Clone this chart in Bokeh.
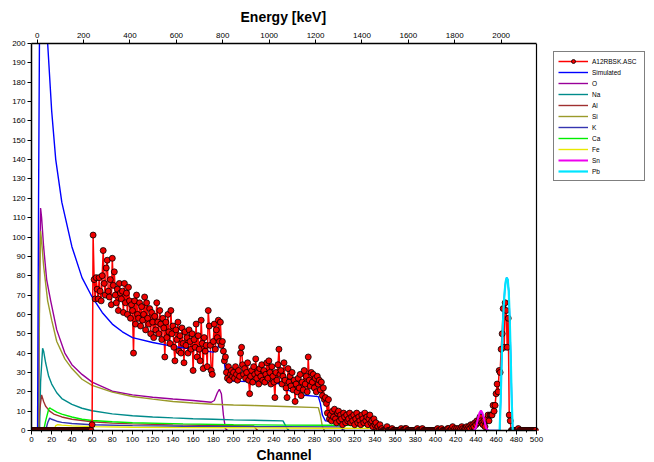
from bokeh.plotting import figure
from bokeh.models import (Range1d, LinearAxis, Legend, LegendItem, SingleIntervalTicker,
                          Span, Title)
from bokeh.embed import file_html
from bokeh.resources import INLINE

# ---------------- data ----------------
# measured spectrum A12RBSK.ASC, one value per channel
counts_000_059 = [0] * 60
counts_060_199 = [
    3, 101, 78, 68, 79, 73, 68, 79, 72, 67,
    80, 93, 76, 70, 84, 88, 72, 69, 78, 65,
    89, 75, 82, 70, 66, 73, 62, 76, 71, 68,
    72, 61, 76, 66, 71, 60, 74, 67, 58, 65,
    62, 40, 67, 55, 70, 60, 58, 66, 54, 64,
    57, 60, 69, 52, 66, 58, 55, 63, 50, 61,
    56, 48, 59, 52, 66, 56, 50, 62, 55, 47,
    58, 53, 38, 56, 48, 60, 51, 45, 62, 50,
    54, 43, 36, 52, 47, 56, 41, 49, 40, 53,
    45, 35, 51, 44, 48, 40, 52, 46, 42, 50,
    31, 47, 43, 55, 38, 49, 42, 36, 57, 45,
    32, 48, 41, 44, 33, 62, 54, 44, 31, 29,
    46, 55, 42, 52, 48, 57, 46, 56, 44, 46,
    41, 36, 38, 30, 27, 33, 26, 29, 31, 28,
]
counts_200_349 = [
    30, 27, 33, 29, 26, 31, 28, 40, 43, 34,
    29, 32, 27, 30, 35, 26, 19, 28, 31, 25,
    33, 29, 37, 27, 30, 24, 32, 28, 34, 26,
    31, 25, 29, 35, 27, 36, 30, 24, 33, 28,
    25, 17, 30, 26, 34, 42, 29, 31, 24, 28,
    35, 26, 22, 17, 32, 25, 28, 23, 30, 21,
    26, 15, 24, 20, 27, 22, 29, 18, 25, 21,
    31, 24, 28, 20, 38, 26, 23, 30, 25, 29,
    22, 27, 20, 28, 24, 26, 21, 25, 18, 22,
    16, 17, 14, 9, 16, 6, 8, 5, 10, 7,
    11, 6, 4, 9, 10, 5, 8, 6, 3, 9,
    7, 4, 8, 5, 6, 9, 4, 7, 5, 8,
    3, 6, 9, 4, 7, 5, 3, 8, 6, 4,
    9, 5, 7, 3, 6, 8, 4, 5, 2, 6,
    3, 4, 1, 2, 0, 3, 0, 1, 0, 0,
]
counts_350_499 = [
    0, 0, 2, 0, 0, 0, 0, 1, 0, 0,
    0, 0, 0, 0, 0, 0, 1, 0, 0, 0,
    1, 1, 0, 0, 0, 0, 0, 0, 0, 0,
    0, 0, 1, 0, 0, 0, 0, 1, 0, 0,
    0, 0, 0, 0, 0, 0, 0, 0, 0, 0,
    0, 0, 1, 0, 0, 0, 1, 0, 0, 0,
    0, 0, 1, 1, 0, 0, 1, 2, 0, 1,
    0, 1, 0, 1, 0, 1, 2, 1, 0, 1,
    1, 2, 1, 2, 1, 3, 2, 3, 2, 4,
    3, 5, 4, 5, 7, 5, 4, 3, 5, 2,
    5, 6, 8, 5, 8, 8, 8, 13, 10, 13,
    19, 24, 20, 31, 30, 42, 50, 63, 43, 66,
    62, 43, 58, 8, 5, 0, 0, 0, 0, 0,
    0, 0, 1, 0, 0, 0, 0, 0, 0, 0,
    0, 0, 0, 0, 0, 0, 0, 0, 0, 0,
]

# simulated spectrum and element contributions: (channel, counts)
simulated = [(0, 0), (6, 0), (7, 120), (8.5, 260), (10, 320), (12, 290), (14, 240),
             (16, 200), (20, 165), (24, 140), (30, 118), (40, 95), (50, 79), (60, 69),
             (70, 61), (80, 55), (90, 51), (100, 48), (120, 45.5), (140, 43.5),
             (160, 42), (180, 40.5), (184, 42), (187, 47), (189, 45), (191, 35),
             (193, 26), (200, 25.5), (220, 25.2), (240, 24.5), (248, 24), (252, 21),
             (256, 20.5), (262, 20), (265, 18.5), (284, 17.5), (286, 14), (288, 8),
             (291, 5), (300, 4.6), (320, 4.4), (338, 4.2), (341, 1.5), (345, 0.8),
             (375, 0.5), (377, 0), (438, 0), (440, 1.5), (442, 6), (445, 10.3),
             (448, 6), (450, 1.5), (452, 0), (463.5, 0), (464.5, 15), (465.5, 35),
             (466.5, 52), (467.5, 64), (468.5, 72), (469.5, 77), (470.5, 79),
             (471.5, 78), (472.5, 72), (473.5, 58), (474.5, 38), (475.5, 15),
             (476.5, 0), (500, 0)]
el_O = [(0, 0), (7, 0), (8, 80), (9, 115), (10, 110), (12, 95), (15, 78), (19, 67),
        (25, 52), (33, 40), (40, 34), (50, 29), (60, 25), (80, 20.3), (100, 18.4),
        (120, 17.2), (140, 16.3), (160, 15.5), (178, 14.6), (181, 15.5), (184, 19.5),
        (186, 21.3), (188, 19), (190, 8), (192, 1), (194, 0)]
el_Na = [(8, 0), (9, 25), (11, 42.5), (12, 41), (14, 35), (17, 28), (20, 24),
         (25, 19.5), (30, 16.5), (40, 13.5), (50, 11.5), (60, 10.2), (80, 8.6),
         (100, 7.6), (120, 7), (140, 6.5), (160, 6.1), (180, 5.8), (200, 5.5),
         (230, 5.2), (249, 5), (251, 3), (253, 1), (255, 0)]
el_Al = [(7, 0), (8, 10), (10, 18.4), (12, 15), (14, 12.5), (18, 10), (22, 8.5),
         (30, 7), (40, 5.8), (60, 4.5), (80, 3.8), (100, 3.4), (140, 2.9),
         (180, 2.6), (220, 2.4), (222, 1), (224, 0)]
el_Si = [(7, 0), (8, 70), (9, 103), (10, 98), (12, 85), (16, 67), (20, 57), (25, 46),
         (33, 37), (40, 32), (50, 26.5), (60, 23.3), (80, 19.8), (100, 17.6),
         (120, 16.2), (140, 15), (160, 14.2), (180, 13.6), (200, 13.2), (220, 12.9),
         (250, 12.4), (284, 11.8), (286, 8), (288, 2), (290, 0)]
el_K = [(14, 0), (16, 4), (18, 6.4), (20, 5.8), (25, 4.8), (30, 4.2), (40, 3.6),
        (60, 3), (100, 2.5), (150, 2.2), (200, 2), (250, 1.9), (305, 1.8),
        (308, 0.5), (310, 0)]
el_Ca = [(12, 0), (14, 5), (17, 11), (18, 11.7), (20, 11), (25, 9.5), (30, 8.5),
         (40, 7), (50, 5.8), (60, 5.2), (80, 4.5), (100, 4), (150, 3.4), (200, 3),
         (250, 2.8), (300, 2.7), (336, 2.6), (339, 1), (341, 0)]
el_Fe = [(22, 0), (24, 2.5), (26, 3), (30, 2.8), (40, 2.4), (60, 2), (100, 1.7),
         (150, 1.5), (200, 1.4), (250, 1.3), (300, 1.2), (370, 1.1), (373, 0.5),
         (375, 0)]
el_Sn = [(438, 0), (440, 1.5), (442, 6), (443.5, 9), (445, 10.3), (446.5, 9),
         (448, 6), (450, 1.5), (452, 0)]
el_Pb = [(463.5, 0), (464.5, 15), (465.5, 35), (466.5, 52), (467.5, 64), (468.5, 72),
         (469.5, 77), (470.5, 79), (471.5, 78), (472.5, 72), (473.5, 58),
         (474.5, 38), (475.5, 15), (476.5, 0)]

# channel axis limits and energy calibration of the top axis
channel_min, channel_max = 0, 500
counts_min, counts_max = 0, 200
energy_at_ch0 = -24.6        # keV
kev_per_channel = 4.354

counts = counts_000_059 + counts_060_199 + counts_200_349 + counts_350_499
channels = list(range(len(counts)))


def unzip(pairs):
    return [a for a, _ in pairs], [b for _, b in pairs]


FONT = "Liberation Sans"
W, H = 654, 462
LEFT, TOP, BOTTOM = 31, 43, 32
PX_PER_CH = 1.01
# the frame continues to the right edge so the legend can sit beside the box
x_end = channel_min + (W - LEFT) / PX_PER_CH

p = figure(width=W, height=H, x_range=Range1d(channel_min, x_end),
           y_range=Range1d(counts_min, counts_max),
           output_backend="svg", toolbar_location=None,
           min_border_left=LEFT, min_border_right=0, min_border_top=TOP,
           min_border_bottom=BOTTOM)
p.xgrid.visible = False
p.ygrid.visible = False
p.outline_line_color = None
p.background_fill_color = "white"
p.border_fill_color = "white"

bottom_axis = p.below[0]
left_axis = p.left[0]
bottom_axis.ticker = SingleIntervalTicker(interval=20, num_minor_ticks=2)
bottom_axis.bounds = (channel_min, channel_max)
left_axis.ticker = SingleIntervalTicker(interval=10, num_minor_ticks=0)
p.extra_x_ranges = {"energy": Range1d(energy_at_ch0,
                                      energy_at_ch0 + x_end * kev_per_channel)}
top_axis = LinearAxis(x_range_name="energy",
                      ticker=SingleIntervalTicker(interval=200, num_minor_ticks=0),
                      bounds=(energy_at_ch0, energy_at_ch0 + channel_max * kev_per_channel))
p.add_layout(top_axis, "above")

for ax in [bottom_axis, left_axis, top_axis]:
    ax.axis_line_width = 1.5
    ax.axis_line_color = "black"
    ax.major_tick_in = 0
    ax.major_tick_out = 4
    ax.minor_tick_in = 0
    ax.minor_tick_out = 2
    ax.major_tick_line_color = "black"
    ax.minor_tick_line_color = "black"
    ax.major_label_text_font = FONT
    ax.major_label_text_font_size = "8px"
    ax.major_label_text_color = "black"
    ax.major_label_standoff = 2

# axis titles, centred on the plot box (not on the wider frame)
energy_title = Title(text="Energy [keV]", align="left", offset=209,
                     text_font=FONT, text_font_size="14px", text_font_style="bold",
                     text_color="black", standoff=9)
p.add_layout(energy_title, "above")
channel_title = Title(text="Channel", align="left", offset=225,
                      text_font=FONT, text_font_size="14px", text_font_style="bold",
                      text_color="black", standoff=0)
p.add_layout(channel_title, "below")

# right edge of the plot box
p.add_layout(Span(location=channel_max, dimension="height", line_color="black",
                  line_width=1.2))

# element curves
renderers = {}
styles = [("O", el_O, "#990099"), ("Na", el_Na, "#008b8b"), ("Al", el_Al, "#a03030"),
          ("Si", el_Si, "#9a9a2a"), ("K", el_K, "#3535b0"), ("Ca", el_Ca, "#00ee00"),
          ("Fe", el_Fe, "#e8e800")]
for name, pairs, col in styles:
    xs, ys = unzip(pairs)
    renderers[name] = p.line(xs, ys, line_color=col, line_width=1.4)

# measured data
data_line = p.line(channels, counts, line_color="#ff0000", line_width=1.5)
sx, sy = unzip(simulated)
sim_line = p.line(sx, sy, line_color="#0000ff", line_width=1.4)
data_pts = p.scatter(channels, counts, size=6, fill_color="#ee0000",
                     line_color="black", line_width=0.8)

xs, ys = unzip(el_Sn)
renderers["Sn"] = p.line(xs, ys, line_color="#ee00ee", line_width=2)
xs, ys = unzip(el_Pb)
renderers["Pb"] = p.line(xs, ys, line_color="#00e5ff", line_width=2.2)

items = [LegendItem(label="A12RBSK.ASC", renderers=[data_line, data_pts]),
         LegendItem(label="Simulated", renderers=[sim_line])]
for name in ["O", "Na", "Al", "Si", "K", "Ca", "Fe", "Sn", "Pb"]:
    items.append(LegendItem(label=name, renderers=[renderers[name]]))

legend = Legend(items=items, location=(522, 249))
legend.margin = 0
legend.padding = 4
legend.spacing = 1
legend.glyph_width = 30
legend.glyph_height = 10
legend.label_height = 10
legend.label_width = 48
legend.label_standoff = 4
legend.label_text_font = FONT
legend.label_text_font_size = "6.5px"
legend.label_text_color = "black"
legend.border_line_color = "black"
legend.border_line_width = 1.2
legend.background_fill_alpha = 1
p.add_layout(legend, "center")

open("out.html", "w").write(file_html(p, INLINE))
